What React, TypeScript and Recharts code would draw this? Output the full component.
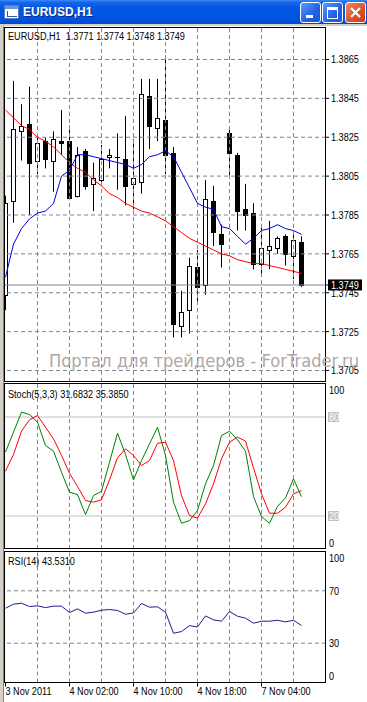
import React from "react";
import { ComposedChart, Bar, Line, XAxis, YAxis, ReferenceLine } from "recharts";

const FONT = '"Liberation Sans", Arial, sans-serif';
const NARROW = 0.83;
const GRID = "#778899";
const X_DOMAIN: [number, number] = [-0.1875, 40.0625];

// EURUSD H1 bars
const opens = [1.3744, 1.3792, 1.3828, 1.3832, 1.3813, 1.3823, 1.3813, 1.3823, 1.3823, 1.3795, 1.3818, 1.3801, 1.3803, 1.3815, 1.3815, 1.3814, 1.3801, 1.3802, 1.3846, 1.383, 1.3834, 1.3817, 1.3728, 1.3736, 1.3758, 1.3749, 1.3792, 1.3775, 1.3827, 1.3816, 1.3788, 1.3786, 1.376, 1.3767, 1.3768, 1.3774, 1.3764, 1.3771];
const highs = [1.3795, 1.3854, 1.3842, 1.3851, 1.3825, 1.3825, 1.3828, 1.3839, 1.3831, 1.382, 1.3819, 1.3812, 1.3821, 1.3819, 1.3827, 1.3836, 1.3824, 1.3855, 1.3855, 1.3855, 1.3867, 1.382, 1.3746, 1.3763, 1.3767, 1.3803, 1.38, 1.378, 1.383, 1.3817, 1.3801, 1.3791, 1.378, 1.3782, 1.3774, 1.3775, 1.3775, 1.3774];
const lows = [1.3736, 1.3781, 1.3813, 1.3785, 1.3806, 1.3809, 1.3797, 1.3816, 1.3793, 1.3794, 1.3798, 1.3787, 1.3802, 1.3809, 1.3798, 1.379, 1.3788, 1.3796, 1.3819, 1.3823, 1.3806, 1.3722, 1.3722, 1.3724, 1.3739, 1.3744, 1.3769, 1.3758, 1.3805, 1.3777, 1.3777, 1.3757, 1.3754, 1.3757, 1.3765, 1.3759, 1.3752, 1.3748];
const closes = [1.3791, 1.3829, 1.3831, 1.3812, 1.3822, 1.3814, 1.3824, 1.3822, 1.3794, 1.3816, 1.38, 1.3804, 1.3814, 1.3816, 1.3815, 1.38, 1.3804, 1.3847, 1.3831, 1.3835, 1.3816, 1.3729, 1.3735, 1.3759, 1.3748, 1.3793, 1.3776, 1.377, 1.3817, 1.3787, 1.3785, 1.376, 1.3768, 1.3769, 1.3773, 1.3765, 1.3772, 1.3749];
const maFast = [1.3753, 1.377, 1.3778, 1.3783, 1.3786, 1.3787, 1.3791, 1.3805, 1.3808, 1.3816, 1.3816, 1.3815, 1.3814, 1.3813, 1.3812, 1.3811, 1.3809, 1.3811, 1.3815, 1.3816, 1.3818, 1.3815, 1.3807, 1.3799, 1.3791, 1.3789, 1.3788, 1.3779, 1.3778, 1.3774, 1.377, 1.3773, 1.3777, 1.3778, 1.378, 1.3778, 1.3777, 1.3775];
const maSlow = [1.3839, 1.3835, 1.3831, 1.3829, 1.3825, 1.3823, 1.382, 1.3816, 1.3812, 1.3809, 1.3807, 1.3803, 1.38, 1.3796, 1.3794, 1.3791, 1.3789, 1.3787, 1.3786, 1.3784, 1.3782, 1.3779, 1.3776, 1.3773, 1.3771, 1.3769, 1.3767, 1.3765, 1.3764, 1.3762, 1.3761, 1.376, 1.376, 1.3759, 1.3758, 1.3757, 1.3756, 1.3755];
const stochMain = [58.7, 70.8, 82.9, 81.5, 76.8, 62.7, 59.3, 46.5, 34.4, 33.0, 20.9, 32.4, 35.0, 52.6, 70.2, 57.3, 41.9, 53.6, 63.7, 73.8, 56.7, 28.4, 15.6, 17.2, 23.3, 39.5, 50.6, 68.8, 71.4, 66.2, 59.3, 31.8, 19.7, 15.6, 25.8, 31.0, 42.5, 31.7];
const stochSignal = [47.2, 57.3, 71.4, 78.3, 80.9, 73.8, 66.8, 56.7, 45.9, 37.9, 29.4, 28.4, 29.8, 41.9, 55.3, 60.7, 56.7, 50.6, 53.6, 64.1, 64.7, 53.6, 32.4, 20.3, 18.7, 27.4, 39.5, 54.7, 64.7, 67.8, 65.4, 49.2, 33.4, 21.7, 21.7, 25.3, 33.4, 35.4];
const rsiValues = [56.7, 59.8, 60.5, 58.0, 58.5, 57.2, 58.3, 58.3, 53.4, 56.2, 52.9, 53.7, 55.2, 55.7, 55.0, 52.1, 53.1, 60.3, 57.5, 57.8, 53.7, 37.6, 38.9, 43.4, 42.4, 50.8, 47.8, 46.8, 54.2, 50.6, 49.1, 45.3, 46.8, 46.8, 47.5, 46.3, 47.5, 43.5];

const priceTicks = [1.3705, 1.3725, 1.3745, 1.3765, 1.3785, 1.3805, 1.3825, 1.3845, 1.3865];
const lastPrice = 1.3749;
const gridBars = [4, 8, 12, 16, 20, 24, 28, 32, 36];
const timeTicks = [0, 8, 16, 24, 32];
const timeLabels = ["3 Nov 2011", "4 Nov 02:00", "4 Nov 10:00", "4 Nov 18:00", "7 Nov 04:00"];
const stochTicks = [0, 20, 80, 100];
const stochLevels = [20, 80];
const rsiTicks = [0, 30, 70, 100];
const rsiLevels = [30, 70];

const data = opens.map((o, i) => ({
  i,
  open: o,
  high: highs[i],
  low: lows[i],
  close: closes[i],
  range: [lows[i], highs[i]],
  fast: maFast[i],
  slow: maSlow[i],
  k: stochMain[i],
  d: stochSignal[i],
  rsi: rsiValues[i],
}));

// MT4's terminal font is narrow, so squeeze Liberation Sans horizontally around x
function NText({ x, y, fill = "#000", children }: any) {
  return (
    <text
      x={x}
      y={y}
      fill={fill}
      fontSize={11}
      fontFamily={FONT}
      transform={`matrix(${NARROW} 0 0 1 ${x * (1 - NARROW)} 0)`}
      style={{ whiteSpace: "pre" }}
    >
      {children}
    </text>
  );
}

function CandleShape(props: any) {
  const { x, y, width, height, payload } = props;
  if (!payload) return null;
  const top = Math.min(y, y + height);
  const span = Math.abs(height);
  const range = payload.high - payload.low || 1;
  const py = (v: number) => top + ((payload.high - v) / range) * span;
  const cx = Math.floor(x + width / 2) + 0.5;
  const bull = payload.close >= payload.open;
  const b1 = Math.round(py(Math.max(payload.open, payload.close))) + 0.5;
  const b2 = Math.round(py(Math.min(payload.open, payload.close))) + 0.5;
  return (
    <g>
      <line x1={cx} x2={cx} y1={top} y2={top + span} stroke="#000" />
      {b2 - b1 < 1 ? (
        <line x1={cx - 2.5} x2={cx + 2.5} y1={b1} y2={b1} stroke="#000" />
      ) : (
        <rect x={cx - 2} y={b1} width={4} height={b2 - b1} fill={bull ? "#fff" : "#000"} stroke="#000" />
      )}
    </g>
  );
}

function PriceTick(props: any) {
  const { x, y, payload } = props;
  const v = payload.value;
  if (v === lastPrice) {
    return (
      <g>
        <rect x={x - 3} y={y - 5.5} width={34} height={11} fill="#000" />
        <NText x={x} y={y + 4} fill="#fff">{v.toFixed(4)}</NText>
      </g>
    );
  }
  return <NText x={x} y={y + 4}>{v.toFixed(4)}</NText>;
}

function StochTick(props: any) {
  const { x, y, payload } = props;
  const v = payload.value;
  if (stochLevels.includes(v)) {
    return (
      <g>
        <rect x={x - 1} y={y - 5} width={11} height={10} fill="#C0C0C0" />
        <NText x={x} y={y + 4} fill="#fff">{v}</NText>
      </g>
    );
  }
  const dy = v === 100 ? 6 : v === 0 ? -6 : 0;
  return <NText x={x} y={y + dy + 4}>{v}</NText>;
}

function RsiTick(props: any) {
  const { x, y, payload } = props;
  const v = payload.value;
  const dy = v === 100 ? 7 : v === 0 ? -6 : 0;
  return <NText x={x} y={y + dy + 4}>{v}</NText>;
}

function TimeTick(props: any) {
  const { x, y, payload } = props;
  const idx = timeTicks.indexOf(payload.value);
  return <NText x={x} y={y + 7}>{timeLabels[idx]}</NText>;
}

const vGrid = gridBars.map((b) => (
  <ReferenceLine key={"v" + b} x={b} stroke={GRID} strokeDasharray="4 3" />
));

function TitleBar() {
  const btn = (left: number, bg: string, children: React.ReactNode) => (
    <div
      style={{
        position: "absolute", left, top: 2, width: 19, height: 19,
        border: "1px solid #fff", borderRadius: 3, background: bg, overflow: "hidden",
      }}
    >
      {children}
    </div>
  );
  return (
    <div
      style={{
        position: "absolute", left: 0, top: 0, width: 367, height: 24,
        background: "linear-gradient(to bottom, #3D8BF5 0%, #1566EA 10%, #0558E3 30%, #0055E5 70%, #0049D3 100%)",
      }}
    >
      <div style={{ position: "absolute", left: 4, top: 5, width: 13, height: 12, background: "#fff", border: "1px solid #5A7EC0" }}>
        <div style={{ position: "absolute", left: 0, top: 0, width: 13, height: 3, background: "#6C95D8" }} />
        <div style={{ position: "absolute", left: 2, top: 5, width: 9, height: 5, borderBottom: "1px solid #2B58A8", borderLeft: "1px solid #2B58A8" }} />
      </div>
      <div
        style={{
          position: "absolute", left: 23, top: 4, color: "#fff", fontWeight: "bold",
          fontFamily: FONT, fontSize: 12, lineHeight: "16px",
          textShadow: "1px 1px #0A2A8A",
        }}
      >
        EURUSD,H1
      </div>
      {btn(300, "linear-gradient(135deg, #5C9BFA, #2160E6 60%, #1A56D8)",
        <div style={{ position: "absolute", left: 5, top: 12, width: 7, height: 3, background: "#fff" }} />)}
      {btn(322, "linear-gradient(135deg, #5C9BFA, #2160E6 60%, #1A56D8)",
        <div style={{ position: "absolute", left: 4, top: 4, width: 9, height: 8, border: "1px solid #fff", borderTopWidth: 3 }} />)}
      {btn(345, "linear-gradient(135deg, #EE8A66, #DE4E27 60%, #CC3F1A)",
        <svg width={19} height={19} style={{ position: "absolute", left: 0, top: 0 }}>
          <path d="M5 5 L14 14 M14 5 L5 14" stroke="#fff" strokeWidth={2.2} />
        </svg>)}
    </div>
  );
}

export default function App() {
  return (
    <div style={{ position: "relative", width: 367, height: 702, overflow: "hidden", background: "#fff" }}>
      <style>{`body{margin:0}`}</style>
      <TitleBar />

      <div style={{ position: "absolute", left: 0, top: 27 }}>
        <ComposedChart width={367} height={355} data={data} margin={{ top: 0, right: 0, bottom: 0, left: 4 }}>
          <XAxis type="number" dataKey="i" domain={X_DOMAIN} hide allowDataOverflow />
          <YAxis
            orientation="right"
            domain={[1.369908, 1.388172]}
            allowDataOverflow
            ticks={[...priceTicks, lastPrice]}
            width={41}
            axisLine={false}
            tickSize={3}
            tickMargin={2}
            tickLine={{ stroke: "#000" }}
            tick={<PriceTick />}
            interval={0}
          />
          {vGrid}
          {priceTicks.map((p) => (
            <ReferenceLine key={"h" + p} y={p} stroke={GRID} strokeDasharray="4 3" />
          ))}
          <ReferenceLine y={lastPrice} stroke={GRID} />
          <Bar dataKey="range" barSize={5} shape={<CandleShape />} isAnimationActive={false} />
          <Line dataKey="slow" stroke="#FF0000" dot={false} strokeWidth={1} isAnimationActive={false} />
          <Line dataKey="fast" stroke="#0000DD" dot={false} strokeWidth={1} isAnimationActive={false} />
        </ComposedChart>
      </div>

      <div style={{ position: "absolute", left: 0, top: 384 }}>
        <ComposedChart width={367} height={165} data={data} margin={{ top: 0, right: 0, bottom: 0, left: 4 }}>
          <XAxis type="number" dataKey="i" domain={X_DOMAIN} hide allowDataOverflow />
          <YAxis
            orientation="right"
            domain={[0, 100]}
            allowDataOverflow
            ticks={stochTicks}
            width={41}
            axisLine={false}
            tickLine={false}
            tickSize={0}
            tickMargin={3}
            tick={<StochTick />}
            interval={0}
          />
          {vGrid}
          {stochLevels.map((l) => (
            <ReferenceLine key={"s" + l} y={l} stroke="#C0C0C0" />
          ))}
          <Line dataKey="k" stroke="#008000" dot={false} strokeWidth={1} isAnimationActive={false} />
          <Line dataKey="d" stroke="#FF0000" dot={false} strokeWidth={1} isAnimationActive={false} />
        </ComposedChart>
      </div>

      <div style={{ position: "absolute", left: 0, top: 551 }}>
        <ComposedChart width={367} height={152} data={data} margin={{ top: 0.5, right: 0, bottom: 0, left: 4 }}>
          <XAxis
            type="number"
            dataKey="i"
            domain={X_DOMAIN}
            allowDataOverflow
            ticks={timeTicks}
            interval={0}
            height={20.5}
            axisLine={false}
            tickSize={4}
            tickMargin={2}
            tickLine={{ stroke: "#000" }}
            tick={<TimeTick />}
          />
          <YAxis
            orientation="right"
            domain={[0, 100]}
            allowDataOverflow
            ticks={rsiTicks}
            width={41}
            axisLine={false}
            tickLine={false}
            tickSize={0}
            tickMargin={3}
            tick={<RsiTick />}
            interval={0}
          />
          {vGrid}
          {rsiLevels.map((l) => (
            <ReferenceLine key={"r" + l} y={l} stroke={GRID} strokeDasharray="4 3" />
          ))}
          <Line dataKey="rsi" stroke="#1C1C8C" dot={false} strokeWidth={1} isAnimationActive={false} />
        </ComposedChart>
      </div>

      <svg width={367} height={702} style={{ position: "absolute", left: 0, top: 0, pointerEvents: "none" }}>
        <rect x={0} y={24} width={367} height={2} fill="#D4D0C8" />
        <rect x={0} y={24} width={3} height={678} fill="#D4D0C8" />
        <rect x={3} y={26} width={1} height={676} fill="#808080" />
        <rect x={4.5} y={27.5} width={321} height={354} fill="none" stroke="#000" />
        <rect x={4.5} y={383.5} width={321} height={165} fill="none" stroke="#000" />
        <rect x={4.5} y={551.5} width={321} height={131} fill="none" stroke="#000" />
        <NText x={8} y={40}>EURUSD,H1  1.3771 1.3774 1.3748 1.3749</NText>
        <NText x={8} y={398}>Stoch(5,3,3) 31.6832 35.3850</NText>
        <NText x={8} y={565}>RSI(14) 43.5310</NText>
        <text
          x={49}
          y={367}
          fontSize={17}
          fontFamily='"DejaVu Sans", Verdana, sans-serif'
          fill="#B0A6A6"
          textLength={310}
          lengthAdjust="spacingAndGlyphs"
        >
          Портал для трейдеров - ForTrader.ru
        </text>
      </svg>
    </div>
  );
}
